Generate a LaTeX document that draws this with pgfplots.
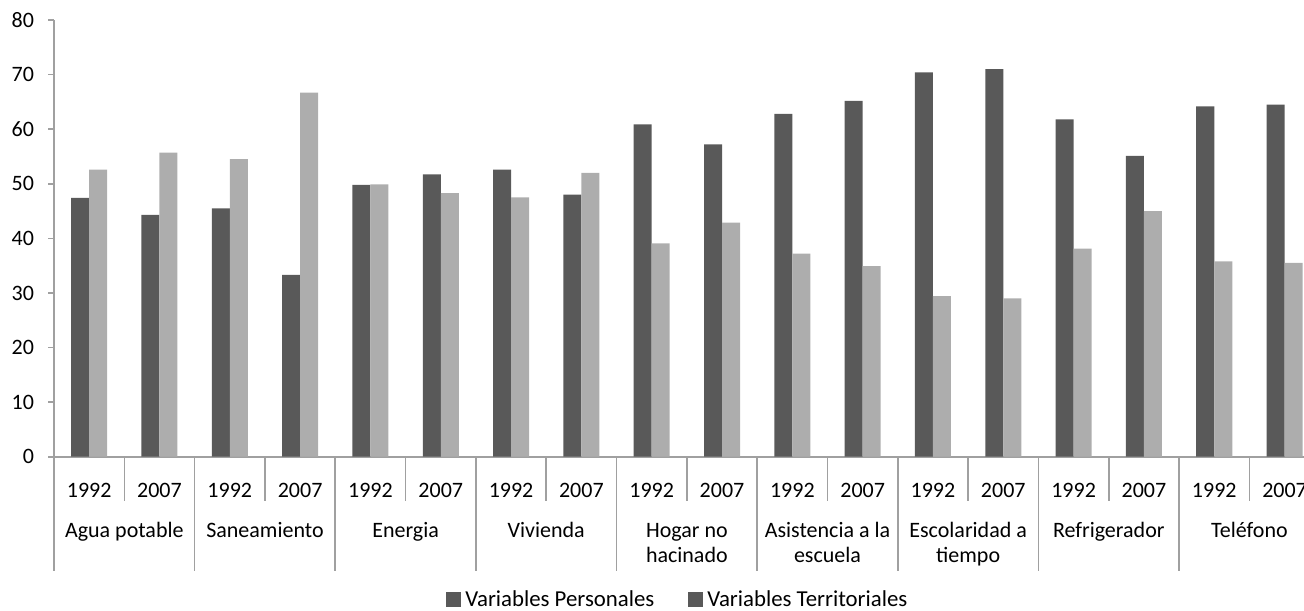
\documentclass[border=0pt]{standalone}
\usepackage{fontspec}
\setmainfont{Carlito}
\usepackage{pgfplots}
\pgfplotsset{compat=1.18}

\definecolor{darkbar}{HTML}{595959}
\definecolor{lightbar}{HTML}{ADADAD}
\definecolor{axisgray}{HTML}{A0A0A0}

\begin{document}
\begin{tikzpicture}
\begin{axis}[
    scale only axis,
    width=632.7pt,
    height=218.3pt,
    xmin=-0.5, xmax=17.5,
    ymin=0, ymax=80,
    ytick={0,10,...,80},
    xtick={0,...,17},
    xticklabels={1992,2007,1992,2007,1992,2007,1992,2007,1992,2007,
                 1992,2007,1992,2007,1992,2007,1992,2007},
    axis lines*=left,
    axis line style={draw=axisgray, line width=0.8pt},
    xtick style={draw=none},
    ytick style={draw=axisgray, line width=0.8pt},
    tick align=outside,
    major tick length=3pt,
    ticklabel style={font=\fontsize{11}{13}\selectfont},
    xticklabel style={anchor=base, yshift=-17.6pt},
    yticklabel style={anchor=east, xshift=-3.5pt},
    /pgf/number format/assume math mode=true,
    ybar=0pt,
    bar width=9pt,
    legend columns=2,
    legend style={draw=none, fill=none, at={(0.5,0)}, anchor=center,
        xshift=-4pt, yshift=-71.5pt,
        font=\fontsize{11.4}{13}\selectfont,
        /tikz/every even column/.append style={column sep=15pt}},
    legend image code/.code={\fill[darkbar] (0pt,-3.75pt) rectangle (7.5pt,3.75pt);},
    clip=false,
]

% Variables Personales
\addplot[fill=darkbar, draw=none] coordinates {
    (0,47.4) (1,44.3) (2,45.5) (3,33.3) (4,49.8) (5,51.7)
    (6,52.6) (7,48.0) (8,60.9) (9,57.2) (10,62.8) (11,65.2)
    (12,70.4) (13,71.0) (14,61.8) (15,55.1) (16,64.2) (17,64.5)
};
% Variables Territoriales
\addplot[fill=lightbar, draw=none] coordinates {
    (0,52.6) (1,55.7) (2,54.5) (3,66.7) (4,49.9) (5,48.3)
    (6,47.5) (7,52.0) (8,39.1) (9,42.9) (10,37.2) (11,34.9)
    (12,29.4) (13,29.0) (14,38.1) (15,45.0) (16,35.8) (17,35.5)
};
\legend{Variables Personales, Variables Territoriales}

% separators under the x axis
\pgfplotsinvokeforeach{0,...,8}{
    \draw[axisgray, line width=0.8pt] (axis cs:{2*#1+0.5},0) -- ++(0pt,-22pt);
}
\pgfplotsinvokeforeach{0,...,9}{
    \draw[axisgray, line width=0.8pt] (axis cs:{2*#1-0.5},0) -- ++(0pt,-57pt);
}

% category labels
\tikzset{cat/.style={anchor=base, align=center, inner sep=0pt, yshift=-40.5pt,
    font=\fontsize{11}{12.5}\selectfont},
    cattwo/.style={cat, yshift=-12.5pt}}
\node[cat] at (axis cs:0.5,0) {Agua potable};
\node[cat] at (axis cs:2.5,0) {Saneamiento};
\node[cat] at (axis cs:4.5,0) {Energia};
\node[cat] at (axis cs:6.5,0) {Vivienda};
\node[cattwo] at (axis cs:8.5,0) {Hogar no\\hacinado};
\node[cattwo] at (axis cs:10.5,0) {Asistencia a la\\escuela};
\node[cattwo] at (axis cs:12.5,0) {Escolaridad a\\tiempo};
\node[cat] at (axis cs:14.5,0) {Refrigerador};
\node[cat] at (axis cs:16.5,0) {Teléfono};

\coordinate (O) at (rel axis cs:0,0);
\coordinate (T) at (rel axis cs:0,1);
\end{axis}
\pgfresetboundingbox
\path[use as bounding box] ([xshift=-27pt,yshift=-76.7pt]O) rectangle ([xshift=624.85pt,yshift=10pt]T);
\end{tikzpicture}
\end{document}
